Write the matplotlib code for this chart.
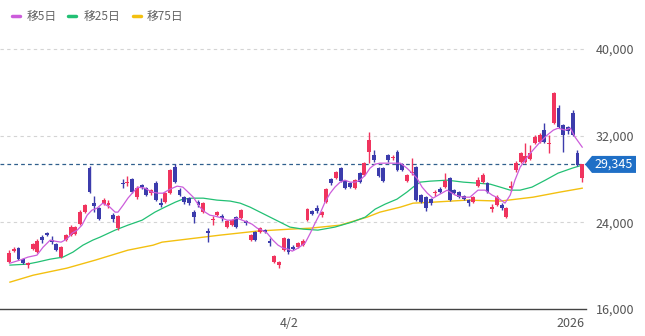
import matplotlib.pyplot as plt
import matplotlib.patches as mpatches
from matplotlib.transforms import IdentityTransform
import numpy as np

plt.rcParams['font.family'] = ['Noto Sans CJK JP', 'DejaVu Sans']

# ---- candle data (open / high / low / close) ----
opens = [20320, 21340, 21620, 20600, 20050, 21520, 21250, 22630, 23000, 22360,
         21990, 20790, 22360, 22820, 22910, 23830, 24940, 29000, 25770, 25310,
         25680, 25590, 24660, 23460, 27620, 27620, 27990, 26320, 27430, 27150,
         26690, 27620, 25770, 25860, 26690, 29090, 26970, 26320, 26230, 24940,
         25860, 24940, 23190, 24200, 24660, 24570, 23560, 23740, 24480, 24390,
         24110, 22360, 23090, 23090, 23280, 22260, 20320, 20050, 21430, 22450,
         21710, 21710, 21890, 24200, 25030, 25310, 24660, 25860, 27990, 28080,
         29000, 27800, 27620, 27150, 28540, 28350, 30480, 30200, 29000, 29000,
         30200, 29920, 30480, 29370, 27800, 28540, 29090, 26510, 26320, 26140,
         26690, 27060, 27250, 28080, 26970, 26790, 26420, 26050, 25860, 27340,
         27710, 27620, 25220, 25590, 25590, 24480, 27150, 28820, 29550, 29550,
         29830, 31310, 31400, 32510, 31220, 33150, 34540, 32970, 32790, 34080,
         30390, 28080]
highs = [21430, 21710, 21710, 20690, 20320, 22080, 22450, 22820, 23090, 22720,
         22080, 21800, 22910, 23740, 23650, 25120, 25680, 29190, 26420, 25400,
         26230, 26050, 24850, 24660, 27990, 28260, 28080, 27340, 27520, 27250,
         27060, 27800, 26230, 26790, 28910, 29370, 27150, 26420, 26320, 25120,
         26050, 25860, 23460, 24570, 25030, 24760, 24200, 24290, 24570, 25220,
         24200, 22910, 23190, 23560, 23370, 22540, 20970, 20420, 22630, 22540,
         21890, 22170, 22450, 25310, 25120, 25590, 25030, 27150, 28080, 28720,
         29090, 27890, 27710, 27990, 28630, 29550, 32320, 30660, 29090, 29090,
         30290, 30200, 30660, 29460, 28450, 29920, 29190, 26600, 26420, 26230,
         26970, 27250, 28540, 28170, 27060, 26880, 26510, 26140, 26420, 28170,
         28540, 27710, 25680, 26510, 25770, 25400, 27800, 29650, 30480, 31310,
         31120, 32050, 32230, 33150, 32050, 36010, 34820, 33060, 32880, 34350,
         30660, 29370]
lows = [20230, 21250, 20510, 20140, 19770, 21430, 21160, 22080, 22720, 21990,
        21340, 20690, 22260, 22720, 22820, 23740, 24850, 26690, 24940, 24200,
        25590, 25310, 24020, 23280, 27150, 27340, 26690, 26140, 27060, 26420,
        26510, 25960, 25400, 25770, 26600, 27620, 26420, 25680, 25590, 23920,
        25400, 24850, 22170, 23740, 24570, 24110, 23460, 23650, 23460, 24290,
        23740, 22260, 22260, 23000, 23000, 21800, 20230, 19770, 21340, 21060,
        21430, 21620, 21800, 24110, 24660, 24850, 24480, 25770, 27430, 27990,
        27710, 27060, 27150, 27060, 27620, 28260, 29460, 29550, 28170, 27710,
        29550, 29740, 28720, 28720, 27710, 28350, 25960, 25770, 25030, 25590,
        26420, 26690, 27150, 25960, 26600, 26230, 26050, 25490, 25770, 27250,
        27620, 26690, 24940, 25490, 25120, 24390, 26880, 28630, 29460, 29460,
        29740, 31220, 31310, 31310, 30390, 33060, 32700, 30480, 32140, 31950,
        29180, 27710]
closes = [21160, 21520, 20600, 20230, 20230, 21990, 22260, 22360, 22820, 22170,
          21430, 21710, 22820, 23560, 23560, 24940, 25590, 26790, 25490, 24290,
          26050, 25770, 24290, 24570, 27520, 27710, 26790, 27150, 27250, 26510,
          26970, 26050, 25590, 26690, 28820, 27710, 26510, 25860, 25770, 24480,
          25590, 25770, 23000, 24290, 24940, 24390, 24110, 24200, 23560, 25120,
          23920, 22820, 22360, 23460, 23090, 22080, 20880, 20320, 22540, 21250,
          21520, 22080, 22260, 25220, 24760, 25030, 24940, 27060, 27620, 28630,
          27800, 27150, 27250, 27890, 27710, 29460, 31590, 29740, 28260, 27800,
          29740, 30020, 28820, 28820, 28350, 28630, 26050, 25860, 25310, 25770,
          26790, 26790, 27800, 26050, 26690, 26320, 26140, 25770, 26320, 27890,
          28350, 26790, 25400, 26320, 25310, 25310, 27340, 29460, 30380, 30110,
          30380, 31860, 32050, 31400, 31310, 35920, 32790, 32050, 32420, 32050,
          29280, 29345]

# ---- moving averages (candle index, value) ----
ma5_pos = [0.2, 2.3, 4.0, 5.9, 7.2, 8.7, 9.7, 11.0, 12.2, 13.3, 14.4, 15.4, 16.5,
           17.5, 18.6, 19.8, 21.3, 22.4, 23.0, 24.1, 25.1, 26.2, 27.2, 28.7, 30.2,
           31.5, 32.5, 34.0, 35.5, 36.7, 37.8, 38.9, 40.3, 41.4, 42.4, 43.5, 45.0,
           46.0, 47.1, 48.1, 49.2, 50.3, 51.3, 52.4, 53.4, 54.5, 55.7, 56.8, 57.9,
           58.9, 59.8, 61.0, 62.5, 63.6, 64.6, 65.7, 66.7, 67.8, 68.8, 69.9, 70.9,
           72.0, 73.1, 74.1, 75.2, 76.2, 77.3, 78.3, 79.8, 81.1, 82.6, 84.0, 85.1,
           86.1, 87.2, 88.3, 89.5, 90.6, 92.5, 94.2, 95.9, 97.3, 99.0, 100.5, 102.0,
           103.3, 104.7, 105.8, 106.8, 107.9, 109.4, 110.6, 112.1, 113.6, 114.9,
           115.9, 117.4, 118.5, 119.5, 121.0]
ma5_val = [20230, 20510, 20790, 20970, 21710, 22360, 22260, 22170, 22450, 23000,
           23280, 23740, 24660, 25120, 25310, 25770, 25400, 24940, 24940, 25590,
           26230, 26790, 27250, 27150, 26790, 26690, 26690, 27060, 27340, 27250,
           26790, 26320, 25400, 24940, 24660, 24570, 24390, 24200, 24200, 24390,
           24200, 24020, 23830, 23460, 23280, 23000, 22360, 21890, 21620, 21520,
           21340, 21620, 22080, 23000, 23920, 24850, 25860, 26690, 27250, 27710,
           27890, 27710, 27710, 27890, 28350, 29000, 29370, 29460, 29460, 29460,
           29460, 29000, 28540, 28080, 27250, 26690, 26230, 26510, 26970, 26510,
           26320, 26320, 26970, 26970, 26510, 26230, 25770, 26510, 27890, 29090,
           30020, 30660, 31400, 32050, 32510, 32690, 32510, 32690, 31860, 30940]

ma25_pos = [0.2, 3.8, 5.9, 8.7, 11.4, 13.5, 15.6, 17.7, 19.2, 22.4, 25.1, 28.1,
            30.8, 32.9, 35.1, 36.7, 38.6, 41.0, 43.9, 46.7, 48.8, 50.9, 53.0,
            55.1, 57.2, 59.3, 62.1, 65.2, 68.8, 72.4, 75.2, 77.3, 79.4, 81.9,
            84.0, 85.3, 86.8, 88.9, 92.5, 95.9, 98.8, 101.6, 103.7, 105.8, 107.9,
            110.4, 113.2, 115.9, 118.9, 121.0]
ma25_val = [20050, 20140, 20320, 20600, 20790, 21250, 21890, 22360, 22630, 23280,
            23740, 24200, 24940, 25400, 25860, 26140, 26230, 26230, 26050, 25960,
            25770, 25400, 24940, 24480, 24020, 23560, 23370, 23280, 23560, 24020,
            24480, 25220, 25680, 26140, 26790, 27250, 27710, 27800, 27890, 27710,
            27620, 27520, 27250, 26970, 26970, 27250, 27890, 28540, 29000, 29280]

ma75_pos = [0.2, 5.1, 12.2, 18.2, 25.1, 30.4, 32.3, 39.3, 44.6, 52.4, 59.3, 63.6,
            69.9, 75.6, 78.3, 82.6, 85.3, 89.5, 96.7, 103.7, 110.6, 116.3, 121.0]
ma75_val = [18480, 19120, 19770, 20510, 21430, 21890, 22170, 22540, 22820, 23190,
            23370, 23460, 23740, 24480, 24940, 25400, 25770, 25860, 26050, 25960,
            26320, 26790, 27150]

ma_labels = ['移5日', '移25日', '移75日']
ma_colors = ['#cc5ddb', '#22c074', '#f3c010']

date_pos = [59.1, 118.5]
date_labels = ['4/2', '2026']
price_ticks = [16000, 24000, 32000, 40000]

RED = '#f0345e'
BLUE = '#3c3cac'

fig = plt.figure(figsize=(6.45, 3.36), dpi=100)
ax = fig.add_axes([0, 27 / 336, 586 / 645, 279 / 336])

x = np.arange(len(closes))
o = np.array(opens)
c = np.array(closes)
up = c >= o
cols = np.where(up, RED, BLUE)

# grid
for p in price_ticks[1:]:
    ax.axhline(p, color='#d4d4d4', lw=0.8, dashes=(3, 3), zorder=0)

# moving averages
ax.plot(ma75_pos, ma75_val, color=ma_colors[2], lw=1.0, zorder=2)
ax.plot(ma25_pos, ma25_val, color=ma_colors[1], lw=0.9, zorder=2)

# candles
ax.vlines(x, lows, highs, colors=cols, lw=1, zorder=3)
body = np.maximum(np.abs(c - o), 60)
ax.bar(x, body, bottom=np.minimum(o, c), width=0.82, color=cols, zorder=3)

ax.plot(ma5_pos, ma5_val, color=ma_colors[0], lw=0.9, zorder=4)

# current price line
last = closes[-1]
ax.axhline(last, color='#2f5f8c', lw=0.9, dashes=(3, 2.5), zorder=1)

ax.set_xlim(-1.9, 121.8)
ax.set_ylim(16000, 16000 + 279 * 92.3)

for s in ['top', 'left', 'right']:
    ax.spines[s].set_visible(False)
ax.spines['bottom'].set_color('#444444')
ax.spines['bottom'].set_linewidth(1)

ax.yaxis.tick_right()
ax.set_yticks(price_ticks)
ax.set_yticklabels([f'{p:,}' for p in price_ticks])
ax.tick_params(axis='y', length=0, pad=7, labelsize=9, labelcolor='#555555')
ax.set_xticks(date_pos)
ax.set_xticklabels(date_labels)
ax.tick_params(axis='x', length=0, pad=6, labelsize=9, labelcolor='#555555')

# price tag
fig.canvas.draw()
py = ax.transData.transform((0, last))[1]
x0 = 585
tag = mpatches.Polygon([(x0, py), (x0 + 7, py + 8.5), (x0 + 51, py + 8.5),
                        (x0 + 51, py - 8.5), (x0 + 7, py - 8.5)],
                       closed=True, fc='#1f6fc6', ec='none',
                       transform=IdentityTransform())
fig.patches.append(tag)
fig.text((x0 + 29) / 645, py / 336, f'{last:,}', color='white', fontsize=9,
         ha='center', va='center')

# legend
seg_x = [12, 68, 133]
txt_x = [27, 84, 147]
for sx, tx, lab, col in zip(seg_x, txt_x, ma_labels, ma_colors):
    fig.add_artist(plt.Line2D([sx / 645, (sx + 8) / 645], [1 - 16 / 336] * 2,
                              color=col, lw=2.5, solid_capstyle='round'))
    fig.text(tx / 645, 1 - 16 / 336, lab, color='#666666', fontsize=8.5,
             ha='left', va='center')

fig.savefig('out.png', dpi=100)
